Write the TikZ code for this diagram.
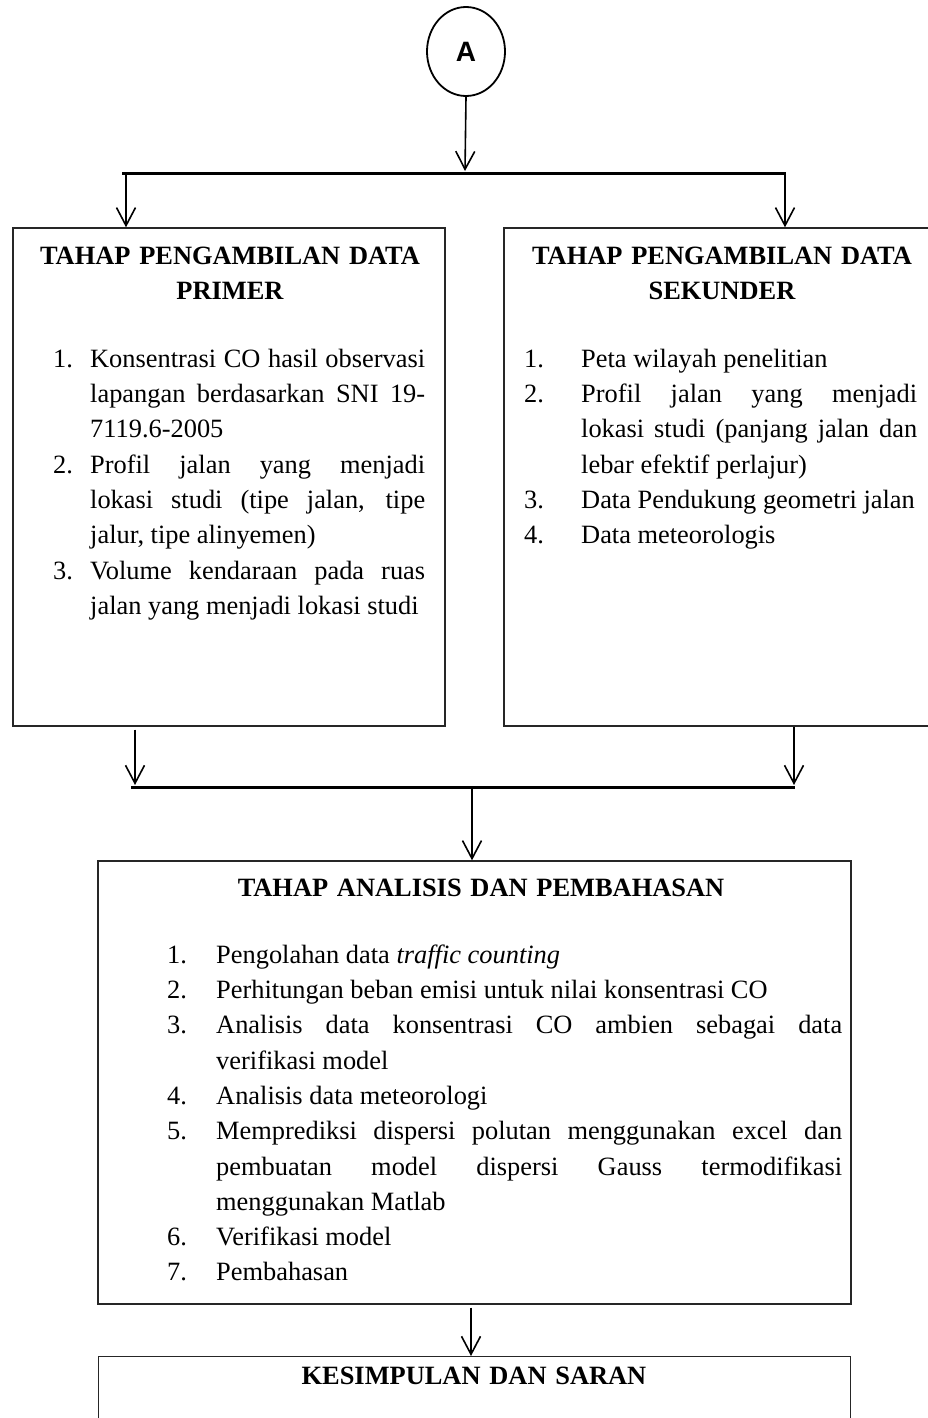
\documentclass[tikz,border=0pt]{standalone}
\usepackage{fontspec}
\setmainfont{Liberation Serif}
\newfontfamily\circfont{Liberation Sans}
\usetikzlibrary{arrows.meta,shapes.geometric}
\newcommand\numit[2]{\hangindent=#1\hangafter=1\noindent\strut\makebox[#1][l]{#2}}
\begin{document}
\begin{tikzpicture}[x=1pt,y=-1pt,
  box/.style={draw=black!85, line width=1.4pt, rectangle, inner sep=0pt},
  conn/.style={line width=1.6pt, -{Straight Barb[length=18pt,width=19pt]}},
  bar/.style={line width=3pt},
  body/.style={inner sep=0pt, anchor=north west, align=justify,
    font={\fontsize{26.4}{35.3}\selectfont\hyphenpenalty=10000}},
  ttl/.style={inner sep=0pt, anchor=north, align=center,
    font={\fontsize{26.4}{35.3}\selectfont\bfseries}},
]
\useasboundingbox (0,0) rectangle (928,1418);
\clip (0,0) rectangle (928,1418);

% connector circle
\node[draw, ellipse, line width=1.8pt, minimum width=78pt, minimum height=89pt, inner sep=0pt] (A) at (466,51.5) {\circfont\bfseries\fontsize{28}{30}\selectfont A};

% boxes
\node[box, minimum width=432pt, minimum height=498pt] (prim) at (229,477) {};
\node[box, minimum width=472pt, minimum height=498pt] (sek) at (740,477) {};
\node[box, minimum width=753pt, minimum height=443pt] (anal) at (474.5,1082.5) {};
\node[box, minimum width=752pt, minimum height=120pt, anchor=north] (kes) at (474.5,1356) {};

% top branching
\coordinate (t1) at (465,171);
\coordinate (t1L) at (122,173);
\coordinate (t1R) at (786,173);
\coordinate (a1) at (126,173);
\coordinate (a2) at (785,173);
\draw[bar] (t1L) -- (t1R);
\draw[conn] (A.south) -- (t1);
\draw[conn] (a1) -- (a1 |- prim.north);
\draw[conn] (a2) -- (a2 |- sek.north);

% joining
\coordinate (b2L) at (131,787);
\coordinate (b2R) at (795,787);
\coordinate (c1) at (135,785);
\coordinate (c2) at (794,785);
\coordinate (c3) at (472,787);
\coordinate (c4) at (471,1304);
\draw[conn] ([yshift=-3pt]prim.south -| c1) -- (c1);
\draw[conn] (sek.south -| c2) -- (c2);
\draw[bar] (b2L) -- (b2R);
\draw[conn] (c3) -- (c3 |- anal.north);
\draw[conn] ([yshift=-3pt]anal.south -| c4) -- (c4 |- kes.north);

% texts
\node[ttl, text width=420pt] (primT) at (230,239.3) {\strut TAHAP PENGAMBILAN DATA\\PRIMER};
\node[ttl, text width=420pt] (sekT) at (722,239.3) {\strut TAHAP PENGAMBILAN DATA\\SEKUNDER};

\node[body, text width=372pt] (primL) at (53,342.3) {%
\numit{37pt}{1.}Konsentrasi CO hasil observasi\linebreak lapangan berdasarkan SNI 19-\linebreak 7119.6-2005\par
\numit{37pt}{2.}Profil jalan yang menjadi\linebreak lokasi studi (tipe jalan, tipe\linebreak jalur, tipe alinyemen)\par
\numit{37pt}{3.}Volume kendaraan pada ruas\linebreak jalan yang menjadi lokasi studi\par};

\node[body, text width=393pt] (sekL) at (524,342.3) {%
\numit{57pt}{1.}Peta wilayah penelitian\par
\numit{57pt}{2.}Profil jalan yang menjadi\linebreak lokasi studi (panjang jalan dan\linebreak lebar efektif perlajur)\par
\numit{57pt}{3.}Data Pendukung geometri jalan\par
\numit{57pt}{4.}Data meteorologis\par};

\node[ttl, text width=700pt] (analT) at (481,871.3) {\strut TAHAP ANALISIS DAN PEMBAHASAN};

\node[body, text width=675pt] (analL) at (167,938.3) {%
\numit{49pt}{1.}Pengolahan data \textit{traffic counting}\par
\numit{49pt}{2.}Perhitungan beban emisi untuk nilai konsentrasi CO\par
\numit{49pt}{3.}Analisis data konsentrasi CO ambien sebagai data\linebreak verifikasi model\par
\numit{49pt}{4.}Analisis data meteorologi\par
\numit{49pt}{5.}Memprediksi dispersi polutan menggunakan excel dan\linebreak pembuatan model dispersi Gauss termodifikasi\linebreak menggunakan Matlab\par
\numit{49pt}{6.}Verifikasi model\par
\numit{49pt}{7.}Pembahasan\par};

\node[ttl, text width=700pt] (kesT) at (474,1359.3) {\strut KESIMPULAN DAN SARAN};
\end{tikzpicture}
\end{document}
